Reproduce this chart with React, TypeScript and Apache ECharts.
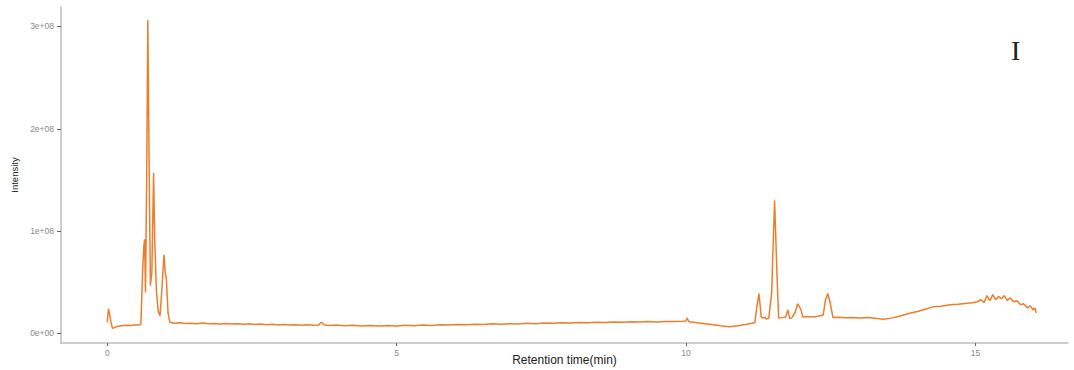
import React, { useEffect, useRef } from "react";
import * as echarts from "echarts";

// Retention time (min)
const times: number[] = [
  0.0, 0.02, 0.04, 0.06, 0.09, 0.13, 0.18, 0.25, 0.32, 0.4, 0.48, 0.55, 0.58,
  0.61, 0.63, 0.645, 0.66, 0.68, 0.7, 0.72, 0.745, 0.77, 0.8, 0.82, 0.85, 0.88,
  0.91, 0.94, 0.98, 1.0, 1.02, 1.05, 1.08, 1.15, 1.25, 1.35, 1.45, 1.55, 1.65,
  1.75, 1.85, 1.95, 2.05, 2.15, 2.25, 2.35, 2.45, 2.55, 2.65, 2.75, 2.85, 2.95,
  3.05, 3.15, 3.25, 3.35, 3.45, 3.55, 3.65, 3.7, 3.75, 3.85, 3.95, 4.1, 4.25,
  4.4, 4.55, 4.7, 4.85, 5.0, 5.15, 5.3, 5.45, 5.6, 5.75, 5.9, 6.05, 6.2, 6.35,
  6.5, 6.65, 6.8, 6.95, 7.1, 7.25, 7.4, 7.55, 7.7, 7.85, 8.0, 8.15, 8.3, 8.45,
  8.6, 8.75, 8.9, 9.05, 9.2, 9.35, 9.5, 9.65, 9.8, 9.95, 10.0, 10.02, 10.05,
  10.2, 10.4, 10.6, 10.75, 10.9, 11.05, 11.19, 11.22, 11.26, 11.3, 11.33, 11.36,
  11.39, 11.43, 11.48, 11.53, 11.57, 11.6, 11.66, 11.72, 11.76, 11.79, 11.83,
  11.88, 11.93, 11.98, 12.02, 12.1, 12.2, 12.3, 12.37, 12.41, 12.45, 12.49,
  12.54, 12.65, 12.75, 12.85, 13.0, 13.15, 13.3, 13.41, 13.55, 13.7, 13.88,
  14.0, 14.15, 14.27, 14.4, 14.57, 14.7, 14.86, 14.95, 15.03, 15.1, 15.15, 15.2,
  15.25, 15.3, 15.35, 15.4, 15.45, 15.5, 15.55, 15.6, 15.66, 15.72, 15.78,
  15.83, 15.9, 15.95, 16.0, 16.03, 16.05,
];

// Intensity (×1e6)
const intensity: number[] = [
  11, 24, 19, 12, 5, 6, 7, 7.5, 8, 7.8, 8.3, 8.2, 9,
  60, 84, 92, 40, 150, 306, 180, 47, 60, 157, 90, 40, 22,
  17, 40, 77, 60, 54, 20, 11, 10, 10.5, 9.8, 10, 9.6, 10.2,
  9.5, 9.8, 9.3, 9.7, 9.2, 9.6, 9.0, 9.4, 8.8, 9.2, 8.6, 9.0, 8.4,
  8.8, 8.3, 8.6, 8.1, 8.5, 8.0, 8.4, 11, 8.2, 7.8, 8.2, 7.6, 8.0,
  7.4, 7.9, 7.3, 7.8, 7.4, 8.0, 7.6, 8.2, 7.9, 8.5, 8.2, 8.8, 8.5, 9.1,
  8.8, 9.4, 9.1, 9.6, 9.3, 9.9, 9.6, 10.2, 10.0, 10.5, 10.2, 10.8, 10.5, 11.0,
  10.7, 11.2, 10.9, 11.4, 11.1, 11.6, 11.3, 11.8, 11.6, 12.0, 12.2, 15, 11.5,
  10.5, 9, 7.5, 6.6, 7.5, 9, 10.5, 25, 39, 16, 15, 16,
  14, 15, 40, 130, 60, 15, 15.5, 16, 23, 14.5, 15.5,
  20, 29, 24, 16, 16.5, 16.2, 17, 18, 33, 39, 30,
  15.5, 15.8, 15.3, 15.5, 15.2, 15.6, 14.6, 14, 15, 17, 20,
  21.5, 24, 26, 26.5, 28, 28.5, 29.5, 30, 31, 33, 30, 37,
  32, 38, 33, 36, 34, 37, 32, 35, 31, 32, 28,
  29, 25, 27, 23, 25, 20,
];

const xTicks: number[] = [0, 5, 10, 15];
const yTicks: number[] = [0, 100, 200, 300];

export default function App() {
  const ref = useRef<HTMLDivElement>(null);
  useEffect(() => {
    if (!ref.current) return;
    const chart = echarts.init(ref.current, undefined, { renderer: "svg" });
    const data = times.map((t, i) => [t, intensity[i]]);
    chart.setOption({
      animation: false,
      backgroundColor: "#ffffff",
      grid: { left: 61, right: 6, top: 7, bottom: 27, containLabel: false, outerBoundsMode: "none" },
      xAxis: {
        type: "value",
        min: -0.8,
        max: 16.6,
        name: "Retention time(min)",
        nameLocation: "middle",
        nameGap: 11,
        nameMoveOverlap: false,
        nameTextStyle: { color: "#222", fontSize: 12, fontFamily: "Liberation Sans" },
        axisLine: { show: true, onZero: false, lineStyle: { color: "#bdbdbd", width: 1.5 } },
        axisTick: { show: true, length: 3, customValues: xTicks, lineStyle: { color: "#666" } },
        axisLabel: {
          customValues: xTicks,
          color: "#888",
          fontSize: 8.5,
          margin: 5,
          fontFamily: "Liberation Sans",
        },
        splitLine: { show: false },
      },
      yAxis: {
        type: "value",
        min: -9.3,
        max: 319,
        name: "Intensity",
        nameLocation: "middle",
        nameGap: 42,
        nameMoveOverlap: false,
        nameTextStyle: { color: "#222", fontSize: 9.5, fontFamily: "Liberation Sans" },
        axisLine: { show: true, onZero: false, lineStyle: { color: "#bdbdbd", width: 1.5 } },
        axisTick: { show: true, length: 4, customValues: yTicks, lineStyle: { color: "#666" } },
        axisLabel: {
          customValues: yTicks,
          color: "#888",
          fontSize: 8.5,
          margin: 7,
          fontFamily: "Liberation Sans",
          formatter: (v: number) => (v === 0 ? "0e+00" : `${v / 100}e+08`),
        },
        splitLine: { show: false },
      },
      series: [
        {
          type: "line",
          data,
          showSymbol: false,
          symbol: "none",
          lineStyle: { color: "#EE7D2B", width: 1.5 },
        },
      ],
      graphic: [
        {
          type: "text",
          left: 1011,
          top: 36,
          style: {
            text: "I",
            fontSize: 28,
            fontFamily: "Liberation Serif",
            fill: "#222",
          },
        },
      ],
    });
    return () => chart.dispose();
  }, []);
  return (
    <div
      ref={ref}
      style={{ position: "fixed", left: 0, top: 0, width: 1074, height: 370 }}
    />
  );
}
